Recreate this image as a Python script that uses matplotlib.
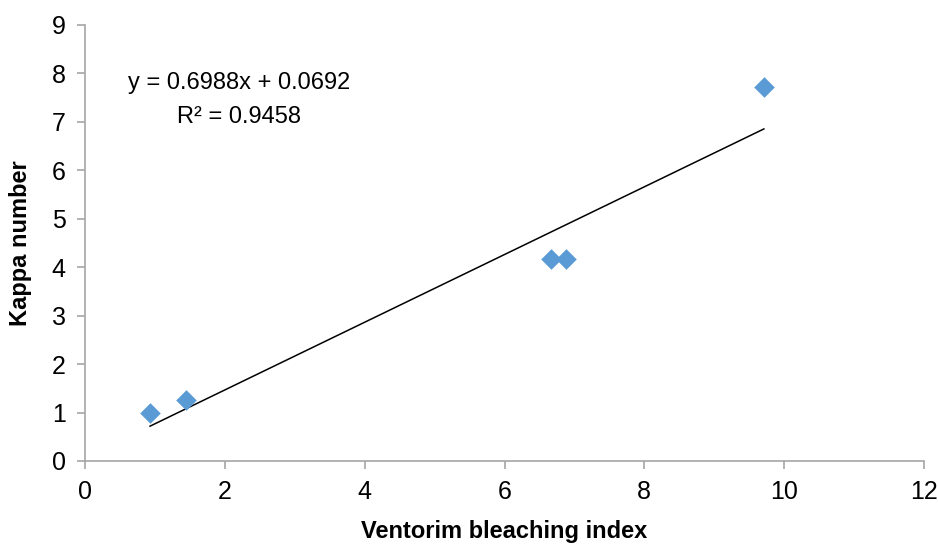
import numpy as np
import matplotlib.pyplot as plt

plt.rcParams['font.family'] = ['Liberation Sans', 'DejaVu Sans']

# data
bleaching_index = [0.93, 1.45, 6.66, 6.88, 9.71]
kappa = [0.99, 1.26, 4.17, 4.17, 7.71]
slope = 0.6988
intercept = 0.0692
r2 = 0.9458

fig = plt.figure(figsize=(9.38, 5.48), dpi=100)
ax = fig.add_axes([85/938, 1 - 461/548, (924 - 85)/938, (461 - 25)/548])

ax.scatter(bleaching_index, kappa, marker='D', s=110, color='#5B9BD5', zorder=3, linewidths=0)

# linear trendline
xs = np.array([min(bleaching_index), max(bleaching_index)])
ax.plot(xs, slope * xs + intercept, color='black', lw=1.1, zorder=2)

ax.text(2.2, 7.8, 'y = %.4fx + %.4f' % (slope, intercept), ha='center', va='center', fontsize=17)
ax.text(2.2, 7.1, 'R² = %.4f' % r2, ha='center', va='center', fontsize=17)

ax.set_xlim(0, 12)
ax.set_ylim(0, 9)
ax.set_xticks(range(0, 13, 2))
ax.set_yticks(range(0, 10))
for s in ['top', 'right']:
    ax.spines[s].set_visible(False)
for s in ['left', 'bottom']:
    ax.spines[s].set_color('#A6A6A6')
    ax.spines[s].set_linewidth(1.2)
ax.tick_params(axis='both', color='#A6A6A6', length=6, width=1.2, labelsize=18, pad=8)

ax.set_xlabel('Ventorim bleaching index', fontsize=17, fontweight='bold', labelpad=11)
ax.set_ylabel('Kappa number', fontsize=17, fontweight='bold', labelpad=14)

fig.savefig('out.png', dpi=100)
